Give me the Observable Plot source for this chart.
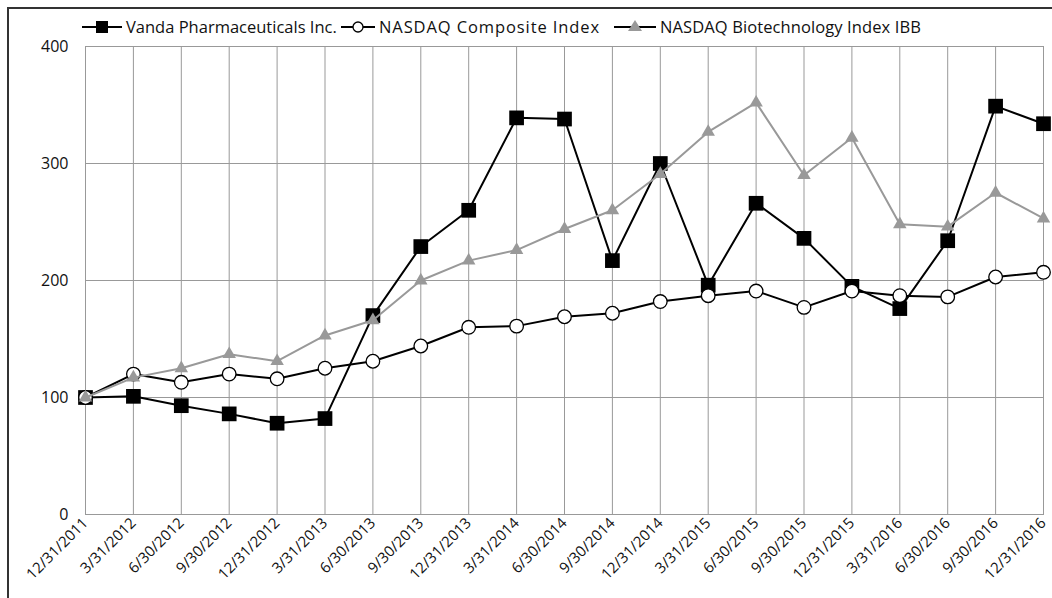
<!DOCTYPE html>
<html>
<head>
<meta charset="utf-8">
<script src="https://cdn.jsdelivr.net/npm/d3@7"></script>
<script src="https://cdn.jsdelivr.net/npm/@observablehq/plot@0.6"></script>
<style>
  html, body { margin: 0; padding: 0; background: #fff; }
  #wrap { position: relative; width: 1052px; height: 598px; overflow: hidden; font-family: "Open Sans", sans-serif; }
  #frame { position: absolute; left: 7px; top: 7px; right: -10px; bottom: -10px; border-top: 2px solid #333; border-left: 2px solid #333; }
  #legend { position: absolute; left: 0; top: 15px; width: 1052px; height: 24px; font-size: 16.5px; color: #111; white-space: nowrap; }
  .item { position: absolute; top: 0; display: flex; align-items: center; }
  .item svg { margin-right: 4px; }
  #chart { position: absolute; left: 0; top: 0; }
</style>
</head>
<body>
<div id="wrap">
  <div id="frame"></div>
  <div id="chart"></div>
  <div id="legend"></div>
</div>
<script>
const dates = ["12/31/2011","3/31/2012","6/30/2012","9/30/2012","12/31/2012","3/31/2013","6/30/2013","9/30/2013","12/31/2013","3/31/2014","6/30/2014","9/30/2014","12/31/2014","3/31/2015","6/30/2015","9/30/2015","12/31/2015","3/31/2016","6/30/2016","9/30/2016","12/31/2016"];
const vanda = [100,101,93,86,78,82,170,229,260,339,338,217,300,196,266,236,195,176,234,349,334];
const nasdaq = [100,120,113,120,116,125,131,144,160,161,169,172,182,187,191,177,191,187,186,203,207];
const nbi = [100,117,125,137,131,153,166,200,217,226,244,260,291,327,352,290,322,248,246,275,253];
const seriesNames = ["Vanda Pharmaceuticals Inc.", "NASDAQ Composite Index", "NASDAQ Biotechnology Index IBB"];
const yTicks = [0, 100, 200, 300, 400];

const idx = dates.map((d, i) => i);
const rows = (vals) => dates.map((d, i) => ({i, date: d, value: vals[i]}));
const vRows = rows(vanda), nRows = rows(nasdaq), bRows = rows(nbi);

const chart = Plot.plot({
  width: 1052,
  height: 598,
  marginLeft: 85,
  marginRight: 9,
  marginTop: 46,
  marginBottom: 84,
  style: {fontFamily: "Open Sans, sans-serif", fontSize: "15px", color: "#111", background: "transparent"},
  x: {type: "linear", domain: [0, dates.length - 1], label: null},
  y: {domain: [0, 400], ticks: yTicks, label: null},
  marks: [
    Plot.gridX(idx, {stroke: "#999", strokeOpacity: 1, strokeWidth: 1}),
    Plot.gridY(yTicks, {stroke: "#999", strokeOpacity: 1, strokeWidth: 1}),
    Plot.frame({stroke: "#999", strokeWidth: 1}),
    Plot.axisY(yTicks, {tickSize: 0, tickPadding: 17, fontSize: 16}),
    Plot.axisX(idx, {tickSize: 0, tickRotate: -45, tickPadding: 6, fontSize: 15, tickFormat: (i) => dates[i]}),
    Plot.line(vRows, {x: "i", y: "value", stroke: "#000", strokeWidth: 2}),
    Plot.dot(vRows, {x: "i", y: "value", symbol: "square", r: 8.3, fill: "#000", stroke: "none"}),
    Plot.line(nRows, {x: "i", y: "value", stroke: "#000", strokeWidth: 2}),
    Plot.dot(nRows, {x: "i", y: "value", symbol: "circle", r: 6.8, fill: "#fff", stroke: "#000", strokeWidth: 1.3}),
    Plot.line(bRows, {x: "i", y: "value", stroke: "#999", strokeWidth: 2}),
    Plot.dot(bRows, {x: "i", y: "value", symbol: "triangle", r: 5, fill: "#999", stroke: "none"})
  ]
});
document.getElementById("chart").appendChild(chart);

// Legend
const legend = document.getElementById("legend");
const symbols = [
  `<line x1="0" y1="10" x2="40" y2="10" stroke="#000" stroke-width="2"/><rect x="14" y="4" width="12" height="12" fill="#000"/>`,
  `<line x1="0" y1="10" x2="34" y2="10" stroke="#000" stroke-width="2"/><circle cx="17" cy="10" r="5" fill="#fff" stroke="#000" stroke-width="1.3"/>`,
  `<line x1="0" y1="10" x2="42" y2="10" stroke="#000" stroke-width="2"/><path d="M21,3 L28,14 L14,14 Z" fill="#999"/>`
];
const svgW = [40, 34, 42];
const itemLeft = [82, 341, 614];
const spacing = ["0px", "0.9px", "0.1px"];
seriesNames.forEach((name, i) => {
  const item = document.createElement("div");
  item.className = "item";
  item.style.left = itemLeft[i] + "px";
  item.innerHTML = `<svg width="${svgW[i]}" height="20">${symbols[i]}</svg><span style="letter-spacing:${spacing[i]}">${name}</span>`;
  legend.appendChild(item);
});
</script>
</body>
</html>
